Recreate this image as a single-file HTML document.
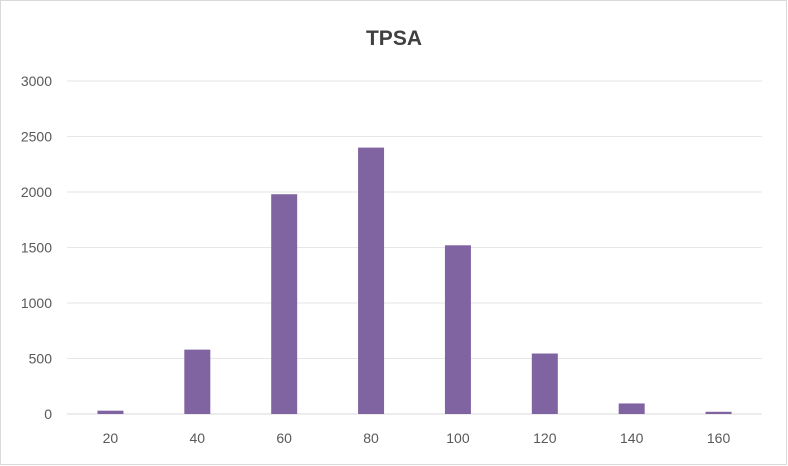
<!DOCTYPE html>
<html><head><meta charset="utf-8"><style>
html,body{margin:0;padding:0;background:#fff;}
svg{display:block;font-family:"Liberation Sans",Arial,sans-serif;}
</style></head><body>
<svg id="chart" width="788" height="466" viewBox="0 0 788 466">
<rect x="0.5" y="0.5" width="786" height="464" fill="#fff" stroke="#d9d9d9"/>
<text x="394" y="45" text-anchor="middle" font-size="21" font-weight="bold" fill="#404040">TPSA</text>
<g id="grid"></g><g id="bars"></g><g id="xlabels"></g><g id="ylabels"></g>
</svg>
<script>
const categories = ["20","40","60","80","100","120","140","160"];
const values = [30, 580, 1980, 2400, 1520, 545, 95, 20];
const yTicks = [0, 500, 1000, 1500, 2000, 2500, 3000];
{
const NS = "http://www.w3.org/2000/svg";
const plotLeft = 67, plotRight = 762, plotTop = 81, plotBottom = 414, yMax = 3000;
const band = (plotRight - plotLeft) / categories.length;
const barW = 26;
function yScale(v){ return plotBottom - v / yMax * (plotBottom - plotTop); }
function xc(i){ return plotLeft + band * (i + 0.5); }
function mk(tag, attrs, parent){ const e = document.createElementNS(NS, tag); for (const k in attrs) e.setAttribute(k, attrs[k]); document.getElementById(parent).appendChild(e); return e; }
yTicks.forEach((t) => {
  const l = mk("line", {x1:plotLeft, x2:plotRight, y1:yScale(t), y2:yScale(t), stroke: t===0?"#d9d9d9":"#e6e6e6", "stroke-width":1}, "grid");
  
  
  const tx = mk("text", {x:52, y:yScale(t)+5, "text-anchor":"end", "font-size":14, fill:"#595959"}, "ylabels");
  tx.textContent = t;
  
  
});
categories.forEach((c, i) => {
  const r = mk("rect", {x:xc(i)-barW/2, y:yScale(values[i]), width:barW, height:plotBottom-yScale(values[i]), fill:"#8064a2"}, "bars");
  
  
  const tx = mk("text", {x:xc(i), y:443, "text-anchor":"middle", "font-size":14, fill:"#595959"}, "xlabels");
  tx.textContent = c;
  
  
});
}
</script>
</body></html>
